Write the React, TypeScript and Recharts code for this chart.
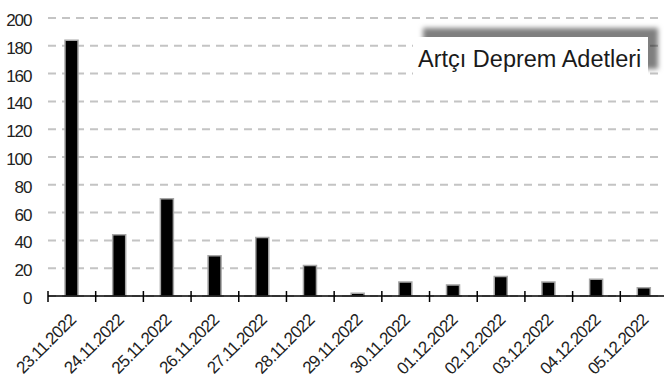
import React from "react";
import { BarChart, Bar, XAxis, YAxis, CartesianGrid } from "recharts";

// Daily aftershock counts
const dates = [
  "23.11.2022", "24.11.2022", "25.11.2022", "26.11.2022", "27.11.2022",
  "28.11.2022", "29.11.2022", "30.11.2022", "01.12.2022", "02.12.2022",
  "03.12.2022", "04.12.2022", "05.12.2022",
];
const counts = [184, 44, 70, 29, 42, 22, 2, 10, 8, 14, 10, 12, 6];
const yTicks = [0, 20, 40, 60, 80, 100, 120, 140, 160, 180, 200];
const seriesName = "Artçı Deprem Adetleri";

const data = dates.map((d, i) => ({ date: d, count: counts[i] }));

const W = 672;
const H = 387;
const MARGIN = { top: 18, right: 4, bottom: 0, left: 8 };
const Y_AXIS_W = 40;
const FONT = "'Liberation Sans', Arial, sans-serif";
const TEXT = "#222";

const plotW = W - MARGIN.left - MARGIN.right - Y_AXIS_W;
const halfBand = plotW / dates.length / 2;

// Category tick: boundary tick mark crossing the axis plus a rotated date label
const XTick = (props: any) => {
  const { x, y, payload } = props;
  const off = payload && typeof payload.offset === "number" && payload.offset > 0 ? payload.offset : halfBand;
  const edge = x - off;
  const lx = x + 5;
  const ly = y + 25;
  return (
    <g>
      <line x1={edge} x2={edge} y1={y - 5} y2={y + 6} stroke="#000" strokeWidth={1.5} />
      <text
        x={lx}
        y={ly}
        textAnchor="end"
        transform={`rotate(-45, ${lx}, ${ly})`}
        fontFamily={FONT}
        fontSize={17}
        letterSpacing={-0.8}
        fill={TEXT}
      >
        {payload.value}
      </text>
    </g>
  );
};

const YTick = (props: any) => {
  const { y, payload } = props;
  return (
    <text
      x={31.5}
      y={y + 8}
      textAnchor="end"
      fontFamily={FONT}
      fontSize={17}
      letterSpacing={-1}
      fill={TEXT}
    >
      {payload.value}
    </text>
  );
};

const TitleBox = () => (
  <g>
    <defs>
      <filter id="titleShadow" x="-20%" y="-60%" width="140%" height="200%">
        <feDropShadow dx={10} dy={-9} stdDeviation={2.5} floodColor="#000" floodOpacity={0.5} />
      </filter>
    </defs>
    <rect x={413} y={37} width={235} height={41} fill="#fff" filter="url(#titleShadow)" />
    <text x={418} y={66.5} fontFamily={FONT} fontSize={23.5} fill="#1a1a1a">
      {seriesName}
    </text>
  </g>
);

export default function App() {
  return (
    <div style={{ position: "absolute", left: 0, top: 0, width: 664, height: 387, overflow: "hidden", background: "#fff" }}>
      <BarChart width={W} height={H} data={data} margin={MARGIN}>
        <CartesianGrid
          vertical={false}
          stroke="#c4c4c4"
          strokeWidth={2}
          strokeDasharray="8 6"
        />
        <XAxis
          dataKey="date"
          height={91}
          interval={0}
          tickLine={false}
          tickSize={0}
          tickMargin={0}
          axisLine={{ stroke: "#000", strokeWidth: 1.5 }}
          tick={<XTick />}
        />
        <YAxis
          width={Y_AXIS_W}
          domain={[0, 200]}
          ticks={yTicks}
          axisLine={false}
          tickLine={false}
          tickSize={0}
          tick={<YTick />}
        />
        <Bar
          dataKey="count"
          name={seriesName}
          fill="#000"
          stroke="#a6a6a6"
          strokeWidth={1.5}
          barSize={13}
          isAnimationActive={false}
        />
        <TitleBox />
      </BarChart>
    </div>
  );
}
